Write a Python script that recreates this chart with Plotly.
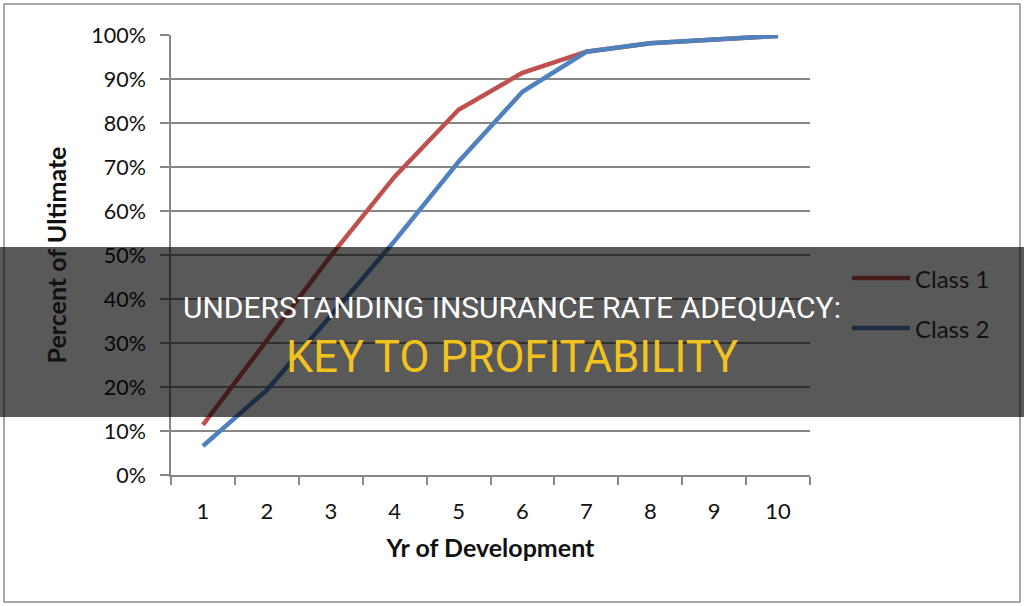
import plotly.graph_objects as go

# ---- data ----
years = ["1", "2", "3", "4", "5", "6", "7", "8", "9", "10"]
class1 = [0.114, 0.305, 0.498, 0.678, 0.83, 0.914, 0.962, 0.981, 0.99, 0.998]
class2 = [0.066, 0.193, 0.362, 0.532, 0.712, 0.871, 0.962, 0.981, 0.99, 0.998]
series_names = ["Class 1", "Class 2"]
y_ticks = [0, 0.1, 0.2, 0.3, 0.4, 0.5, 0.6, 0.7, 0.8, 0.9, 1.0]

title_line1 = "UNDERSTANDING INSURANCE RATE ADEQUACY:"
title_line2 = "KEY TO PROFITABILITY"

# ---- layout constants ----
W, H = 1024, 606
ML, MR, MT, MB = 171, 214, 35, 131
PW = W - ML - MR
PH = H - MT - MB

RED = "#C0504D"
BLUE = "#4F81BD"
GRID = "#878787"
FONT = "Lato"


def px_x(p):
    return (p - ML) / PW


def px_y(p):
    return (H - MB - p) / PH


fig = go.Figure()
fig.add_trace(go.Scatter(x=years, y=class1, mode="lines", name=series_names[0],
                         line=dict(color=RED, width=4.5), showlegend=False))
fig.add_trace(go.Scatter(x=years, y=class2, mode="lines", name=series_names[1],
                         line=dict(color=BLUE, width=4.5), showlegend=False))

shapes = [
    # outer chart border
    dict(type="rect", xref="paper", yref="paper", layer="below",
         x0=px_x(4), x1=px_x(1020), y0=px_y(602), y1=px_y(4),
         line=dict(color="#8C8C8C", width=1.5), fillcolor="rgba(0,0,0,0)"),
    # legend samples
    dict(type="line", xref="paper", yref="paper", layer="above",
         x0=px_x(852), x1=px_x(910), y0=px_y(278), y1=px_y(278),
         line=dict(color=RED, width=4.5)),
    dict(type="line", xref="paper", yref="paper", layer="above",
         x0=px_x(852), x1=px_x(910), y0=px_y(328), y1=px_y(328),
         line=dict(color=BLUE, width=4.5)),
    # dark banner
    dict(type="rect", xref="paper", yref="paper", layer="above",
         x0=px_x(0), x1=px_x(W), y0=px_y(417), y1=px_y(247),
         line=dict(width=0), fillcolor="rgba(0,0,0,0.65)"),
]

annotations = [
    dict(text=series_names[0], xref="paper", yref="paper", x=px_x(913), y=px_y(278),
         xanchor="left", yanchor="middle", showarrow=False,
         font=dict(family=FONT, size=24, color="#111111")),
    dict(text=series_names[1], xref="paper", yref="paper", x=px_x(913), y=px_y(328),
         xanchor="left", yanchor="middle", showarrow=False,
         font=dict(family=FONT, size=24, color="#111111")),
    dict(text=title_line1, xref="paper", yref="paper", x=px_x(512), y=px_y(307),
         xanchor="center", yanchor="middle", showarrow=False,
         font=dict(family="Roboto", size=30, color="#FFFFFF")),
    dict(text=title_line2, xref="paper", yref="paper", x=px_x(512), y=px_y(357),
         xanchor="center", yanchor="middle", showarrow=False,
         font=dict(family="Roboto", size=43.5, color="#F2C21E")),
]

fig.update_layout(
    width=W, height=H,
    margin=dict(l=ML, r=MR, t=MT, b=MB, pad=0),
    paper_bgcolor="white", plot_bgcolor="white",
    font=dict(family=FONT, size=22, color="#111111"),
    showlegend=False,
    shapes=shapes,
    annotations=annotations,
    xaxis=dict(
        type="category", range=[-0.5, 9.5], tickson="boundaries",
        ticks="outside", ticklen=8,
        tickwidth=1.5, tickcolor=GRID, showgrid=False, showline=True,
        linecolor=GRID, linewidth=1.5, zeroline=False,
        tickfont=dict(family=FONT, size=22, color="#111111"),
        ticklabelstandoff=16,
        title=dict(text="<b>Yr of Development</b>", standoff=16,
                   font=dict(family=FONT, size=25, color="#111111")),
        fixedrange=True,
    ),
    yaxis=dict(
        range=[0, 1], tickvals=y_ticks, tickformat=".0%", ticks="outside",
        ticklen=9, tickwidth=1.5, tickcolor=GRID, showgrid=True,
        gridcolor=GRID, gridwidth=1.5, showline=True, linecolor=GRID,
        linewidth=1.5, zeroline=False,
        tickfont=dict(family=FONT, size=21.5, color="#111111"),
        ticklabelstandoff=10,
        title=dict(text="<b>Percent of Ultimate</b>", standoff=18,
                   font=dict(family=FONT, size=25, color="#111111")),
        fixedrange=True,
    ),
)

fig.write_html("out.html", config={"displayModeBar": False})
